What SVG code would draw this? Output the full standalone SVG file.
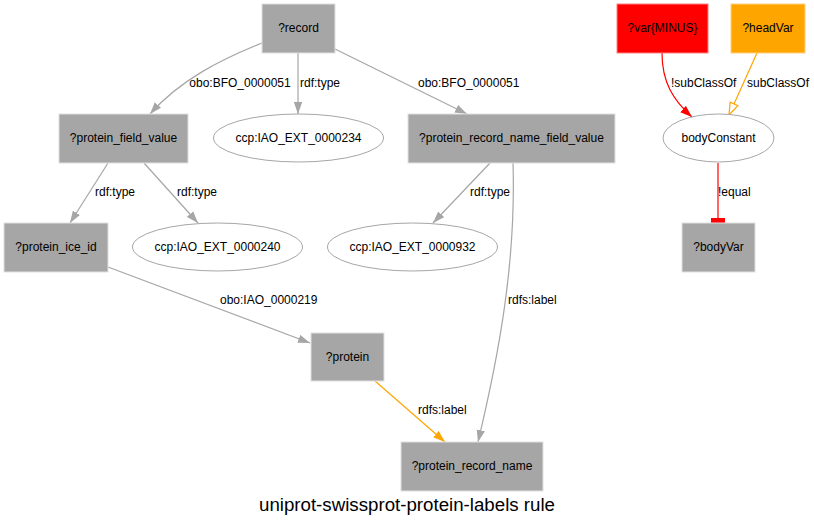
<svg xmlns="http://www.w3.org/2000/svg" width="814" height="528" viewBox="0 0 814 528">
<style>
text{font-family:"Liberation Sans",Arial,sans-serif;font-size:12px;fill:#000}
.n{text-anchor:middle}
.box{fill:#a6a6a6;stroke:#e0e0e0;stroke-width:1}
.ell{fill:#fff;stroke:#a6a6a6;stroke-width:1}
.e{fill:none;stroke:#a6a6a6;stroke-width:1.2}
.r{stroke:#ff0000}
.o{stroke:#ffa500}
.title{font-size:18.7px;text-anchor:middle}
</style>
<defs>
<marker id="ag" viewBox="0 0 10 7" refX="10" refY="3.5" markerWidth="12" markerHeight="9" markerUnits="userSpaceOnUse" orient="auto"><path d="M0,0 L10,3.5 L0,7 z" fill="#a6a6a6"/></marker>
<marker id="ar" viewBox="0 0 10 7" refX="10" refY="3.5" markerWidth="12" markerHeight="9" markerUnits="userSpaceOnUse" orient="auto"><path d="M0,0 L10,3.5 L0,7 z" fill="#ff0000"/></marker>
<marker id="ao" viewBox="0 0 10 7" refX="10" refY="3.5" markerWidth="12" markerHeight="9" markerUnits="userSpaceOnUse" orient="auto"><path d="M0,0 L10,3.5 L0,7 z" fill="#ffa500"/></marker>
<marker id="aoe" viewBox="-1 -1 12 9" refX="10" refY="3.5" markerWidth="15" markerHeight="11" markerUnits="userSpaceOnUse" orient="auto"><path d="M0,0 L10,3.5 L0,7 z" fill="#fff" stroke="#ffa500" stroke-width="1"/></marker>
</defs>
<rect width="814" height="528" fill="#fff"/>
<g id="edges">
<path class="e" d="M262,43 C220,60 180,80 150,114" marker-end="url(#ag)"/>
<text x="240" y="87" class="n">obo:BFO_0000051</text>
<path class="e" d="M298,53 L298,114" marker-end="url(#ag)"/>
<text x="300" y="87">rdf:type</text>
<path class="e" d="M335,49 L467,114" marker-end="url(#ag)"/>
<text x="418" y="87">obo:BFO_0000051</text>
<path class="e" d="M108,163 L70,223" marker-end="url(#ag)"/>
<text x="95" y="196">rdf:type</text>
<path class="e" d="M144,163 L198,223" marker-end="url(#ag)"/>
<text x="177" y="196">rdf:type</text>
<path class="e" d="M490,163 L433,223" marker-end="url(#ag)"/>
<text x="470" y="196">rdf:type</text>
<path class="e" d="M513,163 C516,260 500,350 478,442" marker-end="url(#ag)"/>
<text x="508" y="304">rdfs:label</text>
<path class="e" d="M108,267 L310,343" marker-end="url(#ag)"/>
<text x="220" y="304">obo:IAO_0000219</text>
<path class="e o" d="M375,381 L445,442" marker-end="url(#ao)"/>
<text x="418" y="414">rdfs:label</text>
<path class="e r" d="M662,53 C662,82 673,100 692,117" marker-end="url(#ar)"/>
<text x="671" y="87">!subClassOf</text>
<path class="e o" d="M757,53 L729,115" marker-end="url(#aoe)"/>
<text x="747" y="87">subClassOf</text>
<path class="e r" d="M718,163 L718,221"/>
<rect x="711" y="218" width="14" height="5" fill="#ff0000"/>
<text x="718" y="196">!equal</text>
</g>
<g id="n_record"><rect class="box" x="262" y="4" width="73" height="49"/><text x="298.5" y="32" class="n">?record</text></g>
<g id="n_pfv"><rect class="box" x="59" y="114" width="129" height="49"/><text x="123.5" y="142" class="n">?protein_field_value</text></g>
<g id="n_c234"><ellipse class="ell" cx="298.5" cy="138" rx="85" ry="24"/><text x="298.5" y="142" class="n">ccp:IAO_EXT_0000234</text></g>
<g id="n_prnfv"><rect class="box" x="408" y="114" width="207" height="49"/><text x="511.5" y="142" class="n">?protein_record_name_field_value</text></g>
<g id="n_iceid"><rect class="box" x="4" y="223" width="104" height="49"/><text x="56" y="251" class="n">?protein_ice_id</text></g>
<g id="n_c240"><ellipse class="ell" cx="217.5" cy="247" rx="85" ry="24"/><text x="217.5" y="251" class="n">ccp:IAO_EXT_0000240</text></g>
<g id="n_c932"><ellipse class="ell" cx="412.5" cy="247" rx="85" ry="24"/><text x="412.5" y="251" class="n">ccp:IAO_EXT_0000932</text></g>
<g id="n_protein"><rect class="box" x="311" y="333" width="73" height="48"/><text x="347.5" y="361" class="n">?protein</text></g>
<g id="n_prn"><rect class="box" x="401" y="442" width="142" height="49"/><text x="472" y="470" class="n">?protein_record_name</text></g>
<g id="n_var"><rect x="617" y="4" width="91" height="49" fill="#ff0000" stroke="#ff8080"/><text x="662.5" y="32" class="n">?var{MINUS}</text></g>
<g id="n_head"><rect x="731" y="4" width="74" height="49" fill="#ffa500" stroke="#ffd080"/><text x="768" y="32" class="n">?headVar</text></g>
<g id="n_body"><ellipse class="ell" cx="718.5" cy="138" rx="55.5" ry="24"/><text x="718.5" y="142" class="n">bodyConstant</text></g>
<g id="n_bodyvar"><rect class="box" x="682" y="223" width="73" height="49"/><text x="718.5" y="251" class="n">?bodyVar</text></g>
<text x="407" y="511" class="title">uniprot-swissprot-protein-labels rule</text>
</svg>
